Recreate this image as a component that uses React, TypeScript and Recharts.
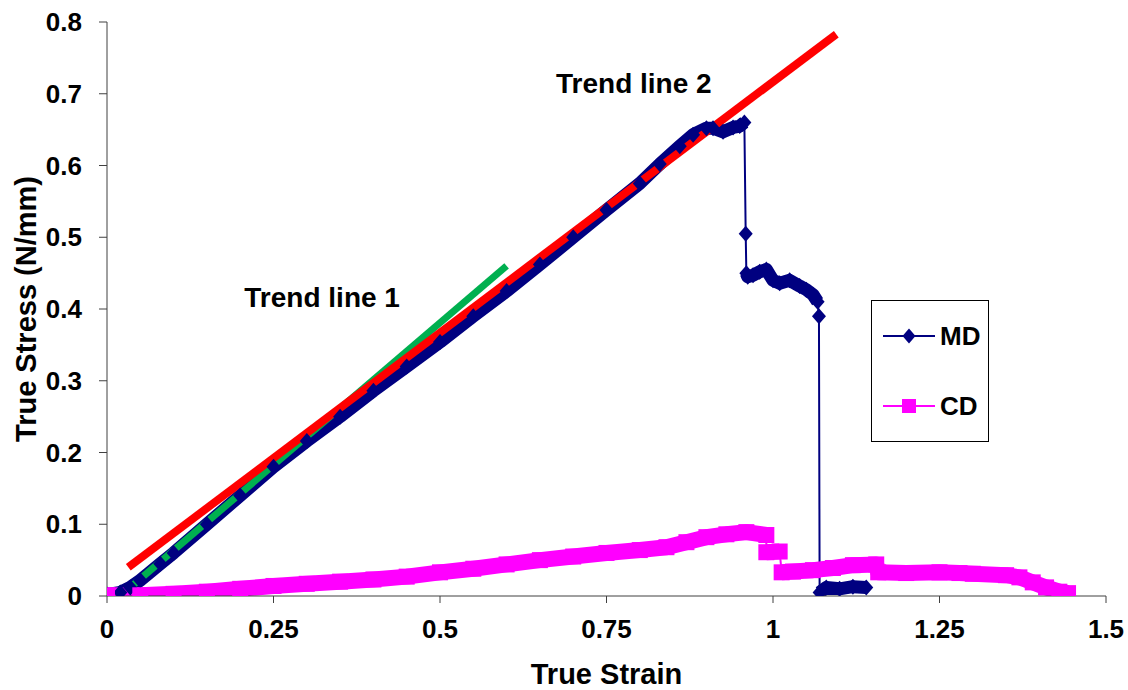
import React from 'react';
import { LineChart, Line, XAxis, YAxis, ReferenceDot, Legend, Label } from 'recharts';

// MD (machine direction) curve
const mdStrain = [0, 0.02, 0.035, 0.05, 0.08, 0.1, 0.15, 0.2, 0.25, 0.3, 0.35, 0.4, 0.45, 0.5, 0.55, 0.6, 0.65, 0.7, 0.75, 0.8, 0.83, 0.86, 0.88, 0.9, 0.91, 0.925, 0.94, 0.95, 0.957, 0.959, 0.96, 0.962, 0.97, 0.98, 0.99, 1.0, 1.01, 1.025, 1.04, 1.05, 1.06, 1.067, 1.069, 1.07, 1.08, 1.1, 1.12, 1.14];
const mdStress = [0.002, 0.005, 0.012, 0.022, 0.045, 0.06, 0.1, 0.14, 0.18, 0.216, 0.25, 0.286, 0.32, 0.354, 0.39, 0.425, 0.462, 0.5, 0.538, 0.575, 0.602, 0.627, 0.643, 0.652, 0.652, 0.647, 0.653, 0.655, 0.66, 0.505, 0.45, 0.445, 0.447, 0.452, 0.455, 0.44, 0.436, 0.44, 0.432, 0.427, 0.42, 0.41, 0.39, 0.005, 0.012, 0.01, 0.013, 0.012];

// CD (cross direction) curve
const cdStrain = [0, 0.05, 0.1, 0.15, 0.2, 0.25, 0.3, 0.35, 0.4, 0.45, 0.5, 0.55, 0.6, 0.65, 0.7, 0.75, 0.8, 0.84, 0.87, 0.9, 0.93, 0.96, 0.99, 0.99, 1.01, 1.013, 1.03, 1.06, 1.09, 1.12, 1.155, 1.158, 1.2, 1.25, 1.28, 1.3, 1.35, 1.37, 1.39, 1.41, 1.43, 1.443];
const cdStress = [0.001, 0.001, 0.003, 0.006, 0.01, 0.014, 0.017, 0.02, 0.023, 0.027, 0.033, 0.038, 0.044, 0.05, 0.055, 0.06, 0.064, 0.068, 0.075, 0.082, 0.086, 0.089, 0.085, 0.061, 0.062, 0.033, 0.034, 0.036, 0.039, 0.043, 0.044, 0.033, 0.032, 0.033, 0.032, 0.031, 0.029, 0.026, 0.019, 0.012, 0.006, 0.004];

const trend1Strain = [0.03, 0.6];
const trend1Stress = [0.008, 0.46];
const trend2Strain = [0.032, 1.095];
const trend2Stress = [0.04, 0.783];

const xTicks = [0, 0.25, 0.5, 0.75, 1, 1.25, 1.5];
const yTicks = [0, 0.1, 0.2, 0.3, 0.4, 0.5, 0.6, 0.7, 0.8];

const MD_COLOR = '#000080';
const CD_COLOR = '#ff00ff';
const FONT = '"Liberation Sans", Arial, sans-serif';

const toPoints = (xs: number[], ys: number[]) => xs.map((x, i) => ({ x, y: ys[i] }));

// thick band under the markers, broken where the curve drops sharply
const toBand = (xs: number[], ys: number[]) => {
  const out: { x: number; y: number | null }[] = [];
  xs.forEach((x, i) => {
    if (i > 0) {
      const dy = Math.abs(ys[i] - ys[i - 1]);
      const dx = Math.abs(x - xs[i - 1]);
      if (dy > 0.015 && dy > dx * 5) out.push({ x: (x + xs[i - 1]) / 2, y: null });
    }
    out.push({ x, y: ys[i] });
  });
  return out;
};

const mdData = toPoints(mdStrain, mdStress);
const cdData = toPoints(cdStrain, cdStress);
const mdBand = toBand(mdStrain, mdStress);
const cdBand = toBand(cdStrain, cdStress);
const trend1 = toPoints(trend1Strain, trend1Stress);
const trend2 = toPoints(trend2Strain, trend2Stress);

const Diamond = (props: any) => {
  const { cx, cy, index } = props;
  if (cx == null || cy == null) return <g key={`md-${index}`} />;
  return <path key={`md-${index}`} d={`M${cx},${cy - 8}L${cx + 7},${cy}L${cx},${cy + 8}L${cx - 7},${cy}Z`} fill={MD_COLOR} />;
};

const Square = (props: any) => {
  const { cx, cy, index } = props;
  if (cx == null || cy == null) return <g key={`cd-${index}`} />;
  return <rect key={`cd-${index}`} x={cx - 8} y={cy - 8} width={16} height={16} fill={CD_COLOR} />;
};

const LegendBox = () => (
  <div style={{ width: 118, height: 142, border: '1px solid #000', background: '#fff', boxSizing: 'border-box' }}>
    <svg width={116} height={140}>
      <line x1={11} x2={63} y1={35} y2={35} stroke={MD_COLOR} strokeWidth={2} />
      <path d="M37,27.5L43.5,35L37,42.5L30.5,35Z" fill={MD_COLOR} />
      <text x={68} y={35} dominantBaseline="central" fontSize={26} fontWeight="bold" fontFamily={FONT}>MD</text>
      <line x1={11} x2={63} y1={105} y2={105} stroke={CD_COLOR} strokeWidth={2} />
      <rect x={30} y={98} width={14} height={14} fill={CD_COLOR} />
      <text x={68} y={105} dominantBaseline="central" fontSize={26} fontWeight="bold" fontFamily={FONT}>CD</text>
    </svg>
  </div>
);

const tickStyle = { fill: '#000', fontSize: 26, fontWeight: 'bold', fontFamily: FONT };
const noteStyle = { fill: '#000', fontSize: 28, fontWeight: 'bold', fontFamily: FONT };
const titleStyle = { fill: '#000', fontSize: 29, fontWeight: 'bold', fontFamily: FONT };

export default function App() {
  return (
    <div style={{ position: 'absolute', left: 0, top: 0, background: '#fff' }}>
      <LineChart width={1128} height={690} margin={{ top: 22, right: 22, left: 0, bottom: 0 }}>
        <XAxis
          type="number"
          dataKey="x"
          domain={[0, 1.5]}
          ticks={xTicks}
          allowDataOverflow
          stroke="#404040"
          tickSize={7}
          tickMargin={17}
          height={94}
          tick={tickStyle}
        >
          <Label value="True Strain" position="insideBottom" offset={6} style={titleStyle} />
        </XAxis>
        <YAxis
          type="number"
          dataKey="y"
          domain={[0, 0.8]}
          ticks={yTicks}
          allowDataOverflow
          stroke="#404040"
          tickSize={8}
          tickMargin={17}
          width={107}
          tick={tickStyle}
        >
          <Label value="True Stress (N/mm)" angle={-90} position="insideLeft" offset={26} style={{ ...titleStyle, textAnchor: 'middle' }} />
        </YAxis>
        <Legend layout="vertical" verticalAlign="middle" align="center" content={() => <LegendBox />} wrapperStyle={{ position: 'absolute', left: 871, top: 300, width: 118, height: 142 }} />

        <Line data={mdBand} dataKey="y" stroke={MD_COLOR} strokeWidth={13} strokeLinejoin="round" dot={false} legendType="none" isAnimationActive={false} />
        <Line data={mdData} dataKey="y" name="MD" stroke={MD_COLOR} strokeWidth={2} dot={Diamond} isAnimationActive={false} />
        <Line data={cdBand} dataKey="y" stroke={CD_COLOR} strokeWidth={16} strokeLinejoin="round" dot={false} legendType="none" isAnimationActive={false} />
        <Line data={cdData} dataKey="y" name="CD" stroke={CD_COLOR} strokeWidth={2} dot={Square} isAnimationActive={false} />
        <Line data={trend1} dataKey="y" stroke="#00b050" strokeWidth={7} dot={false} legendType="none" isAnimationActive={false} />
        <Line data={trend2} dataKey="y" stroke="#ff0000" strokeWidth={8} dot={false} legendType="none" isAnimationActive={false} />

        <ReferenceDot x={0.323} y={0.417} r={0} fill="none" stroke="none" label={{ value: 'Trend line 1', position: 'center', ...noteStyle }} />
        <ReferenceDot x={0.791} y={0.715} r={0} fill="none" stroke="none" label={{ value: 'Trend line 2', position: 'center', ...noteStyle }} />
      </LineChart>
    </div>
  );
}
